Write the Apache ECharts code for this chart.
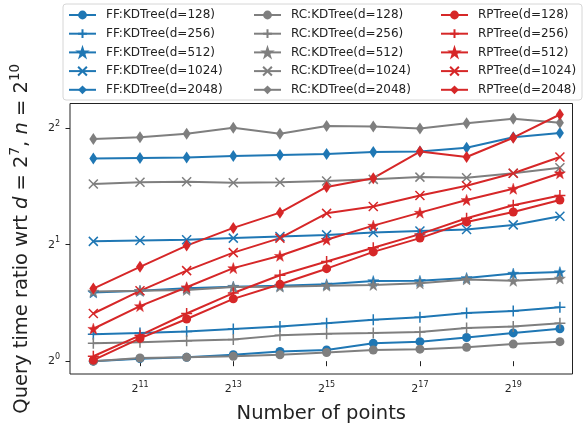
<!DOCTYPE html>
<html><head><meta charset="utf-8">
<script src="https://cdn.jsdelivr.net/npm/echarts@6/dist/echarts.min.js"></script>
<style>html,body{margin:0;padding:0;background:#fff}#c{width:584px;height:429px}</style>
</head><body><div id="c"></div>
<script>
// Number of points (x) and query time ratios (y)
const nPoints = [1024, 2048, 4096, 8192, 16384, 32768, 65536, 131072, 262144, 524288, 1048576];
const xTickExponents = [11, 13, 15, 17, 19];
const yTickExponents = [0, 1, 2];

const ffKD128  = [1.00, 1.015, 1.023, 1.039, 1.060, 1.069, 1.112, 1.123, 1.151, 1.183, 1.213];
const ffKD256  = [1.174, 1.183, 1.194, 1.211, 1.229, 1.253, 1.280, 1.298, 1.332, 1.348, 1.379];
const ffKD512  = [1.505, 1.520, 1.544, 1.558, 1.567, 1.580, 1.611, 1.613, 1.641, 1.684, 1.699];
const ffKD1024 = [2.04, 2.05, 2.06, 2.08, 2.10, 2.12, 2.15, 2.17, 2.19, 2.25, 2.37];
const ffKD2048 = [3.34, 3.35, 3.36, 3.39, 3.41, 3.43, 3.47, 3.48, 3.56, 3.79, 3.89];

const rcKD128  = [1.00, 1.019, 1.023, 1.030, 1.039, 1.053, 1.069, 1.074, 1.086, 1.107, 1.123];
const rcKD256  = [1.112, 1.120, 1.129, 1.138, 1.166, 1.178, 1.183, 1.190, 1.218, 1.229, 1.253];
const rcKD512  = [1.514, 1.520, 1.528, 1.555, 1.558, 1.567, 1.574, 1.589, 1.627, 1.613, 1.636];
const rcKD1024 = [2.87, 2.90, 2.91, 2.89, 2.90, 2.92, 2.95, 2.99, 2.98, 3.06, 3.16];
const rcKD2048 = [3.75, 3.79, 3.87, 4.01, 3.87, 4.05, 4.04, 3.99, 4.12, 4.23, 4.13];

const rpTree128  = [1.006, 1.145, 1.285, 1.449, 1.580, 1.734, 1.916, 2.08, 2.29, 2.43, 2.61];
const rpTree256  = [1.030, 1.166, 1.328, 1.500, 1.668, 1.809, 1.964, 2.13, 2.34, 2.53, 2.68];
const rpTree512  = [1.213, 1.388, 1.553, 1.740, 1.872, 2.06, 2.24, 2.42, 2.61, 2.79, 3.06];
const rpTree1024 = [1.328, 1.520, 1.714, 1.908, 2.08, 2.41, 2.51, 2.68, 2.84, 3.06, 3.37];
const rpTree2048 = [1.540, 1.753, 1.989, 2.21, 2.42, 2.82, 2.97, 3.48, 3.37, 3.78, 4.34];

const dims = [128, 256, 512, 1024, 2048];
const groups = [
  {prefix: 'FF:KDTree', color: '#1f77b4', values: [ffKD128, ffKD256, ffKD512, ffKD1024, ffKD2048]},
  {prefix: 'RC:KDTree', color: '#7f7f7f', values: [rcKD128, rcKD256, rcKD512, rcKD1024, rcKD2048]},
  {prefix: 'RPTree',    color: '#d62728', values: [rpTree128, rpTree256, rpTree512, rpTree1024, rpTree2048]}
];

// star path
function starPath() {
  let p = '';
  for (let k = 0; k < 10; k++) {
    const r = k % 2 === 0 ? 10 : 3.9;
    const a = (-90 + k * 36) * Math.PI / 180;
    p += (k === 0 ? 'M' : 'L') + (10 + r * Math.cos(a)).toFixed(2) + ',' + (10 + r * Math.sin(a)).toFixed(2);
  }
  return 'path://' + p + 'Z';
}
const markers = {
  128:  {symbol: 'circle', size: 9, stroke: 0},
  256:  {symbol: 'path://M0,5L10,5M5,0L5,10', size: 11, stroke: 1.5},
  512:  {symbol: starPath(), size: 11, stroke: 0.5},
  1024: {symbol: 'path://M0,0L10,10M0,10L10,0', size: 9, stroke: 1.5},
  2048: {symbol: 'diamond', size: [8, 12], stroke: 0}
};

const series = [];
const legendNames = [];
groups.forEach(g => {
  const names = [];
  dims.forEach((d, i) => {
    const name = g.prefix + '(d=' + d + ')';
    names.push(name);
    const m = markers[d];
    series.push({
      name, type: 'line',
      data: nPoints.map((n, j) => [Math.log2(n), Math.log2(g.values[i][j])]),
      symbol: m.symbol, symbolSize: m.size, showSymbol: true, showAllSymbol: true,
      lineStyle: {color: g.color, width: 2},
      itemStyle: {color: g.color, borderColor: g.color, borderWidth: m.stroke},
      emphasis: {disabled: true}, animation: false
    });
  });
  legendNames.push(names);
});

const txt = '#222';
const font = 'DejaVu Sans';
const tickRich = {
  b: {fontSize: 11, color: txt, fontFamily: font},
  s: {fontSize: 8, color: txt, fontFamily: font, padding: [0, 0, 9, 0]}
};
const supFmt = v => '{b|2}{s|' + v + '}';

const chart = echarts.init(document.getElementById('c'), null, {renderer: 'canvas'});
chart.setOption({
  animation: false,
  backgroundColor: '#fff',
  graphic: [{
    type: 'rect', z: 0,
    shape: {x: 63, y: 4, width: 519, height: 96, r: 3},
    style: {fill: 'rgba(255,255,255,0.8)', stroke: '#d6d6d6', lineWidth: 1}
  }],
  legend: [68, 253, 440].map((left, c) => ({
    orient: 'vertical', left, top: 8, padding: 0,
    itemWidth: 27, itemHeight: 11, itemGap: 4.7,
    data: legendNames[c],
    selectedMode: false,
    textStyle: {fontSize: 12, color: txt, fontFamily: font, lineHeight: 14, padding: [0, 0, 0, 5]}
  })),
  grid: {left: 65, top: 103.5, right: 11.5, bottom: 47.5, show: true, borderColor: '#222', borderWidth: 1},
  xAxis: {
    type: 'value', min: 9.5, max: 20.27,
    axisLine: {show: false},
    axisTick: {show: true, customValues: xTickExponents, length: 5, lineStyle: {color: '#222'}},
    axisLabel: {customValues: xTickExponents, formatter: supFmt, rich: tickRich, margin: 7},
    splitLine: {show: false},
    name: 'Number of points', nameLocation: 'middle', nameGap: 30,
    nameTextStyle: {fontSize: 19.5, color: txt, fontFamily: font}
  },
  yAxis: {
    type: 'value', min: -0.11, max: 2.212,
    axisLine: {show: false},
    axisTick: {show: true, customValues: yTickExponents, length: 4.5, lineStyle: {color: '#222'}},
    axisLabel: {customValues: yTickExponents, formatter: supFmt, rich: tickRich, margin: 10},
    splitLine: {show: false},
    name: '{n|Query time ratio wrt }{i|d}{n| = 2}{s|7}{n|, }{i|n}{n| = 2}{s|10}',
    nameLocation: 'middle', nameGap: 35,
    nameTextStyle: {
      fontSize: 19.5, color: txt, fontFamily: font,
      rich: {
        n: {fontSize: 19.5, color: txt, fontFamily: font},
        i: {fontSize: 19.5, color: txt, fontFamily: font, fontStyle: 'italic'},
        s: {fontSize: 13.5, color: txt, fontFamily: font, padding: [0, 0, 13, 0]}
      }
    }
  },
  series
});
</script></body></html>
